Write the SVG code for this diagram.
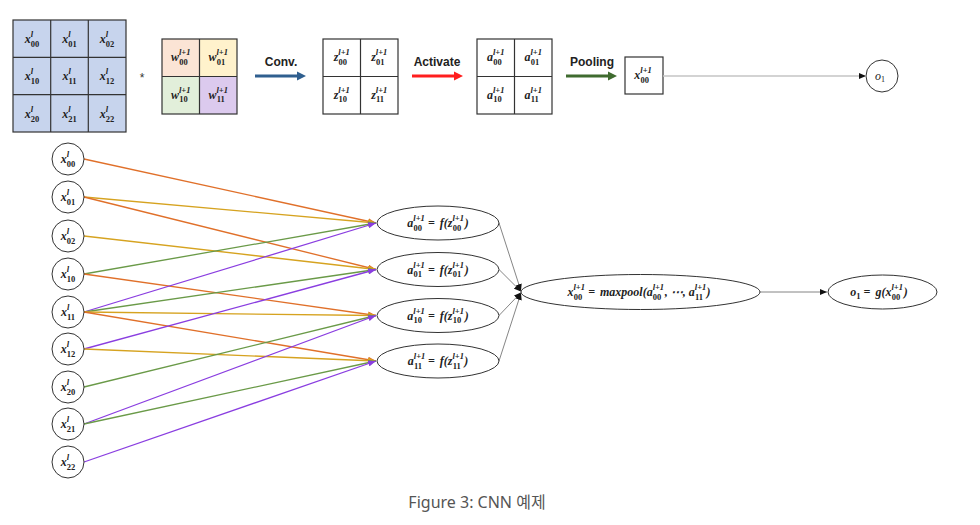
<svg xmlns="http://www.w3.org/2000/svg" width="980" height="525" viewBox="0 0 980 525">
<style>
.m{font-family:"Liberation Serif","DejaVu Serif",serif;font-style:italic;font-weight:bold;font-size:12px;fill:#222}
.s{font-size:8.5px}
.u{font-style:normal}
.g{stroke:#333;stroke-width:1.2}
.nd{fill:#fff;stroke:#333;stroke-width:1}
.lbl{font-family:"Liberation Sans","Noto Sans",sans-serif;font-weight:bold;font-size:12px;fill:#222}
.c1{stroke:#e0702a;stroke-width:1.3;fill:none}
.c2{stroke:#d6a320;stroke-width:1.3;fill:none}
.c3{stroke:#6a9a48;stroke-width:1.3;fill:none}
.c4{stroke:#8a3ee0;stroke-width:1.3;fill:none}
.gl{stroke:#666;stroke-width:0.8;fill:none}
</style>
<defs>
<marker id="m1" markerUnits="userSpaceOnUse" markerWidth="8" markerHeight="6" refX="8" refY="3" orient="auto"><path d="M0,0 L8,3 L0,6 z" fill="#e0702a"/></marker>
<marker id="m2" markerUnits="userSpaceOnUse" markerWidth="8" markerHeight="6" refX="8" refY="3" orient="auto"><path d="M0,0 L8,3 L0,6 z" fill="#d6a320"/></marker>
<marker id="m3" markerUnits="userSpaceOnUse" markerWidth="8" markerHeight="6" refX="8" refY="3" orient="auto"><path d="M0,0 L8,3 L0,6 z" fill="#6a9a48"/></marker>
<marker id="m4" markerUnits="userSpaceOnUse" markerWidth="8" markerHeight="6" refX="8" refY="3" orient="auto"><path d="M0,0 L8,3 L0,6 z" fill="#8a3ee0"/></marker>
<marker id="mk" markerUnits="userSpaceOnUse" markerWidth="7" markerHeight="6" refX="7" refY="3" orient="auto"><path d="M0,0 L7,3 L0,6 z" fill="#111"/></marker>
</defs>
<rect width="980" height="525" fill="#fff"/>

<!-- input 3x3 grid -->
<g id="input-grid">
<rect x="13" y="20" width="113" height="112" fill="#c7d4ed" class="g"/>
<path class="g" d="M50.7,20V132M88.3,20V132M13,57.3H126M13,94.7H126" fill="none"/>
<text class="m" x="32" y="43" text-anchor="middle">x<tspan class="s" dy="-6">l</tspan><tspan class="s u" dx="-2.3" dy="9.5">00</tspan></text>
<text class="m" x="69.5" y="43" text-anchor="middle">x<tspan class="s" dy="-6">l</tspan><tspan class="s u" dx="-2.3" dy="9.5">01</tspan></text>
<text class="m" x="107" y="43" text-anchor="middle">x<tspan class="s" dy="-6">l</tspan><tspan class="s u" dx="-2.3" dy="9.5">02</tspan></text>
<text class="m" x="32" y="80" text-anchor="middle">x<tspan class="s" dy="-6">l</tspan><tspan class="s u" dx="-2.3" dy="9.5">10</tspan></text>
<text class="m" x="69.5" y="80" text-anchor="middle">x<tspan class="s" dy="-6">l</tspan><tspan class="s u" dx="-2.3" dy="9.5">11</tspan></text>
<text class="m" x="107" y="80" text-anchor="middle">x<tspan class="s" dy="-6">l</tspan><tspan class="s u" dx="-2.3" dy="9.5">12</tspan></text>
<text class="m" x="32" y="118" text-anchor="middle">x<tspan class="s" dy="-6">l</tspan><tspan class="s u" dx="-2.3" dy="9.5">20</tspan></text>
<text class="m" x="69.5" y="118" text-anchor="middle">x<tspan class="s" dy="-6">l</tspan><tspan class="s u" dx="-2.3" dy="9.5">21</tspan></text>
<text class="m" x="107" y="118" text-anchor="middle">x<tspan class="s" dy="-6">l</tspan><tspan class="s u" dx="-2.3" dy="9.5">22</tspan></text>
</g>
<text id="star" x="142" y="82" text-anchor="middle" font-family="Liberation Sans,sans-serif" font-size="12" fill="#333">*</text>

<!-- weight grid -->
<g id="weight-grid">
<rect x="162" y="39" width="37.5" height="37.5" fill="#fbe4d5"/>
<rect x="199.5" y="39" width="37.5" height="37.5" fill="#fff2cc"/>
<rect x="162" y="76.5" width="37.5" height="37.5" fill="#e2efda"/>
<rect x="199.5" y="76.5" width="37.5" height="37.5" fill="#dccaee"/>
<rect x="162" y="39" width="75" height="75" fill="none" class="g"/>
<path class="g" d="M199.5,39V114M162,76.5H237" fill="none"/>
<text class="m" x="180.7" y="61" text-anchor="middle">w<tspan class="s" dy="-6">l+1</tspan><tspan class="s u" dx="-11.3" dy="9.5">00</tspan></text>
<text class="m" x="218.2" y="61" text-anchor="middle">w<tspan class="s" dy="-6">l+1</tspan><tspan class="s u" dx="-11.3" dy="9.5">01</tspan></text>
<text class="m" x="180.7" y="98.5" text-anchor="middle">w<tspan class="s" dy="-6">l+1</tspan><tspan class="s u" dx="-11.3" dy="9.5">10</tspan></text>
<text class="m" x="218.2" y="98.5" text-anchor="middle">w<tspan class="s" dy="-6">l+1</tspan><tspan class="s u" dx="-11.3" dy="9.5">11</tspan></text>
</g>

<!-- z grid -->
<g id="z-grid">
<rect x="323" y="39" width="75" height="75" fill="#fff" class="g"/>
<path class="g" d="M360.5,39V114M323,76.5H398" fill="none"/>
<text class="m" x="341.7" y="61" text-anchor="middle">z<tspan class="s" dy="-6">l+1</tspan><tspan class="s u" dx="-11.3" dy="9.5">00</tspan></text>
<text class="m" x="379.2" y="61" text-anchor="middle">z<tspan class="s" dy="-6">l+1</tspan><tspan class="s u" dx="-11.3" dy="9.5">01</tspan></text>
<text class="m" x="341.7" y="98.5" text-anchor="middle">z<tspan class="s" dy="-6">l+1</tspan><tspan class="s u" dx="-11.3" dy="9.5">10</tspan></text>
<text class="m" x="379.2" y="98.5" text-anchor="middle">z<tspan class="s" dy="-6">l+1</tspan><tspan class="s u" dx="-11.3" dy="9.5">11</tspan></text>
</g>

<!-- a grid -->
<g id="a-grid">
<rect x="477" y="39" width="75" height="75" fill="#fff" class="g"/>
<path class="g" d="M514.5,39V114M477,76.5H552" fill="none"/>
<text class="m" x="495.7" y="61" text-anchor="middle">a<tspan class="s" dy="-6">l+1</tspan><tspan class="s u" dx="-11.3" dy="9.5">00</tspan></text>
<text class="m" x="533.2" y="61" text-anchor="middle">a<tspan class="s" dy="-6">l+1</tspan><tspan class="s u" dx="-11.3" dy="9.5">01</tspan></text>
<text class="m" x="495.7" y="98.5" text-anchor="middle">a<tspan class="s" dy="-6">l+1</tspan><tspan class="s u" dx="-11.3" dy="9.5">10</tspan></text>
<text class="m" x="533.2" y="98.5" text-anchor="middle">a<tspan class="s" dy="-6">l+1</tspan><tspan class="s u" dx="-11.3" dy="9.5">11</tspan></text>
</g>

<!-- pooled box -->
<g id="pool-box">
<rect x="625" y="57" width="38" height="37" fill="#fff" class="g"/>
<text class="m" x="643" y="79" text-anchor="middle">x<tspan class="s" dy="-6">l+1</tspan><tspan class="s u" dx="-11.3" dy="9.5">00</tspan></text>
</g>

<!-- output circle top -->
<g id="o1-top">
<circle cx="882" cy="76" r="16" class="nd"/>
<text x="880" y="80" text-anchor="middle" font-family="Liberation Serif,DejaVu Serif,serif" font-style="italic" font-size="12" fill="#222">o<tspan font-size="8" font-style="normal" dy="2">1</tspan></text>
</g>

<!-- top arrows -->
<g id="top-arrows">
<text class="lbl" x="281" y="66" text-anchor="middle">Conv.</text>
<line x1="255" y1="76" x2="298" y2="76" stroke="#2f5f8f" stroke-width="3"/>
<polygon points="297,71.5 306,76 297,80.5" fill="#2f5f8f"/>
<text class="lbl" x="437" y="66" text-anchor="middle">Activate</text>
<line x1="412" y1="76" x2="455" y2="76" stroke="#ff1e1e" stroke-width="3"/>
<polygon points="454,71.5 463,76 454,80.5" fill="#ff1e1e"/>
<text class="lbl" x="592" y="66" text-anchor="middle">Pooling</text>
<line x1="566" y1="76" x2="609" y2="76" stroke="#3f6b2f" stroke-width="3"/>
<polygon points="608,71.5 617,76 608,80.5" fill="#3f6b2f"/>
<line x1="663" y1="76" x2="866" y2="76" stroke="#c4c4c4" stroke-width="1.6" marker-end="url(#mk)"/>
</g>

<!-- connectors -->
<g id="connectors">
<line class="c1" x1="84" y1="159" x2="376" y2="223" marker-end="url(#m1)"/>
<line class="c2" x1="84" y1="197" x2="376" y2="223" marker-end="url(#m2)"/>
<line class="c1" x1="84" y1="197" x2="376" y2="269.5" marker-end="url(#m1)"/>
<line class="c2" x1="84" y1="236" x2="376" y2="269.5" marker-end="url(#m2)"/>
<line class="c3" x1="84" y1="274" x2="376" y2="223" marker-end="url(#m3)"/>
<line class="c1" x1="84" y1="274" x2="376" y2="315.5" marker-end="url(#m1)"/>
<line class="c4" x1="84" y1="312" x2="376" y2="223" marker-end="url(#m4)"/>
<line class="c3" x1="84" y1="312" x2="376" y2="269.5" marker-end="url(#m3)"/>
<line class="c2" x1="84" y1="312" x2="376" y2="315.5" marker-end="url(#m2)"/>
<line class="c1" x1="84" y1="312" x2="376" y2="361" marker-end="url(#m1)"/>
<line class="c4" x1="84" y1="349" x2="376" y2="269.5" marker-end="url(#m4)"/>
<line class="c2" x1="84" y1="349" x2="376" y2="361" marker-end="url(#m2)"/>
<line class="c3" x1="84" y1="387" x2="376" y2="315.5" marker-end="url(#m3)"/>
<line class="c4" x1="84" y1="424" x2="376" y2="315.5" marker-end="url(#m4)"/>
<line class="c3" x1="84" y1="424" x2="376" y2="361" marker-end="url(#m3)"/>
<line class="c4" x1="84" y1="462" x2="376" y2="361" marker-end="url(#m4)"/>
<line class="gl" x1="499" y1="223" x2="521" y2="291" marker-end="url(#mk)"/>
<line class="gl" x1="499" y1="269.5" x2="521" y2="291.5" marker-end="url(#mk)"/>
<line class="gl" x1="499" y1="315.5" x2="521" y2="292.5" marker-end="url(#mk)"/>
<line class="gl" x1="499" y1="361" x2="521" y2="293" marker-end="url(#mk)"/>
<line class="gl" x1="760" y1="292" x2="827" y2="292" marker-end="url(#mk)"/>
</g>

<!-- input nodes -->
<g id="x00"><circle cx="68" cy="159" r="16" class="nd"/><text class="m" x="68" y="163" text-anchor="middle">x<tspan class="s" dy="-6">l</tspan><tspan class="s u" dx="-2.3" dy="9.5">00</tspan></text></g>
<g id="x01"><circle cx="68" cy="197" r="16" class="nd"/><text class="m" x="68" y="201" text-anchor="middle">x<tspan class="s" dy="-6">l</tspan><tspan class="s u" dx="-2.3" dy="9.5">01</tspan></text></g>
<g id="x02"><circle cx="68" cy="236" r="16" class="nd"/><text class="m" x="68" y="240" text-anchor="middle">x<tspan class="s" dy="-6">l</tspan><tspan class="s u" dx="-2.3" dy="9.5">02</tspan></text></g>
<g id="x10"><circle cx="68" cy="274" r="16" class="nd"/><text class="m" x="68" y="278" text-anchor="middle">x<tspan class="s" dy="-6">l</tspan><tspan class="s u" dx="-2.3" dy="9.5">10</tspan></text></g>
<g id="x11"><circle cx="68" cy="312" r="16" class="nd"/><text class="m" x="68" y="316" text-anchor="middle">x<tspan class="s" dy="-6">l</tspan><tspan class="s u" dx="-2.3" dy="9.5">11</tspan></text></g>
<g id="x12"><circle cx="68" cy="349" r="16" class="nd"/><text class="m" x="68" y="353" text-anchor="middle">x<tspan class="s" dy="-6">l</tspan><tspan class="s u" dx="-2.3" dy="9.5">12</tspan></text></g>
<g id="x20"><circle cx="68" cy="387" r="16" class="nd"/><text class="m" x="68" y="391" text-anchor="middle">x<tspan class="s" dy="-6">l</tspan><tspan class="s u" dx="-2.3" dy="9.5">20</tspan></text></g>
<g id="x21"><circle cx="68" cy="424" r="16" class="nd"/><text class="m" x="68" y="428" text-anchor="middle">x<tspan class="s" dy="-6">l</tspan><tspan class="s u" dx="-2.3" dy="9.5">21</tspan></text></g>
<g id="x22"><circle cx="68" cy="462" r="16" class="nd"/><text class="m" x="68" y="466" text-anchor="middle">x<tspan class="s" dy="-6">l</tspan><tspan class="s u" dx="-2.3" dy="9.5">22</tspan></text></g>

<!-- activation nodes -->
<g id="a00"><ellipse cx="438" cy="223" rx="61" ry="17" class="nd"/><text class="m" x="438" y="227" text-anchor="middle">a<tspan class="s" dy="-6">l+1</tspan><tspan class="s u" dx="-11.3" dy="9.5">00</tspan><tspan dy="-3.5" dx="6">= </tspan><tspan dx="2">f(z</tspan><tspan class="s" dy="-6">l+1</tspan><tspan class="s u" dx="-11.3" dy="9.5">00</tspan><tspan dy="-3.5" dx="3.5">)</tspan></text></g>
<g id="a01"><ellipse cx="438" cy="269.5" rx="61" ry="17" class="nd"/><text class="m" x="438" y="273.5" text-anchor="middle">a<tspan class="s" dy="-6">l+1</tspan><tspan class="s u" dx="-11.3" dy="9.5">01</tspan><tspan dy="-3.5" dx="6">= </tspan><tspan dx="2">f(z</tspan><tspan class="s" dy="-6">l+1</tspan><tspan class="s u" dx="-11.3" dy="9.5">01</tspan><tspan dy="-3.5" dx="3.5">)</tspan></text></g>
<g id="a10"><ellipse cx="438" cy="315.5" rx="61" ry="17" class="nd"/><text class="m" x="438" y="319.5" text-anchor="middle">a<tspan class="s" dy="-6">l+1</tspan><tspan class="s u" dx="-11.3" dy="9.5">10</tspan><tspan dy="-3.5" dx="6">= </tspan><tspan dx="2">f(z</tspan><tspan class="s" dy="-6">l+1</tspan><tspan class="s u" dx="-11.3" dy="9.5">10</tspan><tspan dy="-3.5" dx="3.5">)</tspan></text></g>
<g id="a11"><ellipse cx="438" cy="361" rx="61" ry="17" class="nd"/><text class="m" x="438" y="365" text-anchor="middle">a<tspan class="s" dy="-6">l+1</tspan><tspan class="s u" dx="-11.3" dy="9.5">11</tspan><tspan dy="-3.5" dx="6">= </tspan><tspan dx="2">f(z</tspan><tspan class="s" dy="-6">l+1</tspan><tspan class="s u" dx="-11.3" dy="9.5">11</tspan><tspan dy="-3.5" dx="3.5">)</tspan></text></g>

<!-- maxpool node -->
<g id="maxpool"><ellipse cx="640.5" cy="292" rx="119.5" ry="17.5" class="nd"/><text class="m" x="639" y="296" text-anchor="middle">x<tspan class="s" dy="-6">l+1</tspan><tspan class="s u" dx="-11.3" dy="9.5">00</tspan><tspan dy="-3.5" dx="6">= </tspan><tspan dx="2">maxpool(a</tspan><tspan class="s" dy="-6">l+1</tspan><tspan class="s u" dx="-11.3" dy="9.5">00</tspan><tspan dy="-3.5" dx="3.5">, ⋯, a</tspan><tspan class="s" dy="-6">l+1</tspan><tspan class="s u" dx="-11.3" dy="9.5">11</tspan><tspan dy="-3.5" dx="3.5">)</tspan></text></g>

<!-- output node -->
<g id="o1"><ellipse cx="882.5" cy="292" rx="54.5" ry="17" class="nd"/><text class="m" x="879" y="296" text-anchor="middle">o<tspan class="s u" dy="3">1</tspan><tspan dy="-3" dx="3">= </tspan><tspan dx="2">g(x</tspan><tspan class="s" dy="-6">l+1</tspan><tspan class="s u" dx="-11.3" dy="9.5">00</tspan><tspan dy="-3.5" dx="3.5">)</tspan></text></g>

<text id="caption" x="477" y="508" text-anchor="middle" font-family="Noto Sans,Noto Sans CJK KR,sans-serif" font-size="16" fill="#555">Figure 3: CNN 예제</text>
</svg>
